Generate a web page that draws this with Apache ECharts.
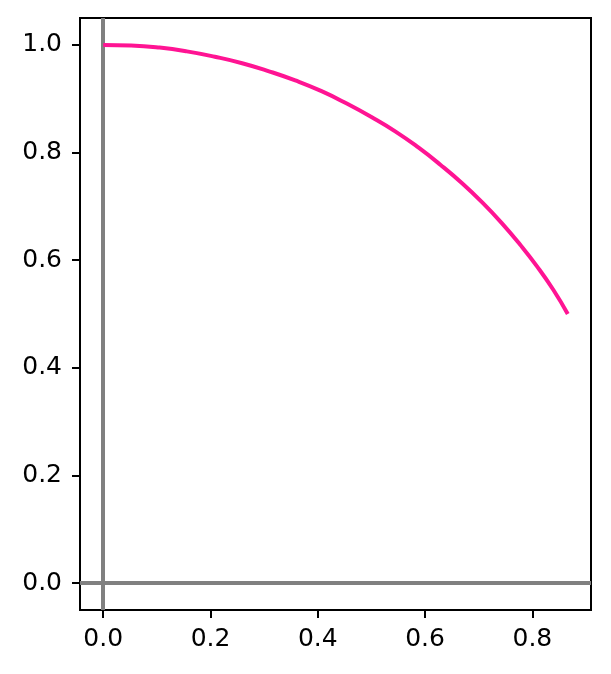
<!DOCTYPE html>
<html>
<head>
<meta charset="utf-8">
<script src="https://cdn.jsdelivr.net/npm/echarts@6/dist/echarts.min.js"></script>
<style>html,body{margin:0;padding:0;background:#fff;}#c{width:611px;height:674px;}</style>
</head>
<body>
<div id="c"></div>
<script>
// Values
const xValues = [0.000, 0.052, 0.105, 0.156, 0.208, 0.259, 0.309, 0.358, 0.407, 0.454, 0.500,
                 0.545, 0.588, 0.629, 0.669, 0.707, 0.743, 0.777, 0.809, 0.839, 0.866];
const yValues = [1.000, 0.999, 0.995, 0.988, 0.978, 0.966, 0.951, 0.934, 0.914, 0.891, 0.866,
                 0.839, 0.809, 0.777, 0.743, 0.707, 0.669, 0.629, 0.588, 0.545, 0.500];
const xTicks = [0.0, 0.2, 0.4, 0.6, 0.8];
const yTicks = [0.0, 0.2, 0.4, 0.6, 0.8, 1.0];
const refX = 0;
const refY = 0;

const chart = echarts.init(document.getElementById('c'), null, {renderer: 'canvas'});
const font = {fontFamily: 'DejaVu Sans', fontSize: 25, color: '#000'};
chart.setOption({
  animation: false,
  grid: {left: 80, right: 20, top: 18, bottom: 64, show: true, borderColor: '#000', borderWidth: 2, backgroundColor: 'transparent'},
  xAxis: {
    type: 'value', min: -0.0433, max: 0.9093,
    axisLine: {show: false, onZero: false},
    splitLine: {show: false},
    axisTick: {show: true, length: 8, lineStyle: {color: '#000', width: 2}, customValues: xTicks},
    axisLabel: Object.assign({margin: 17, customValues: xTicks, formatter: v => v.toFixed(1)}, font)
  },
  yAxis: {
    type: 'value', min: -0.05, max: 1.05,
    axisLine: {show: false, onZero: false},
    splitLine: {show: false},
    axisTick: {show: true, length: 8, lineStyle: {color: '#000', width: 2}, customValues: yTicks},
    axisLabel: Object.assign({margin: 18, customValues: yTicks, formatter: v => v.toFixed(1)}, font)
  },
  series: [{
    type: 'line',
    data: xValues.map((x, i) => [x, yValues[i]]),
    showSymbol: false,
    smooth: true,
    lineStyle: {color: '#ff1493', width: 4},
    z: 3,
    markLine: {
      silent: true,
      symbol: ['none', 'none'],
      label: {show: false},
      lineStyle: {color: '#808080', width: 4, type: 'solid'},
      data: [{xAxis: refX}, {yAxis: refY}],
      z: 2
    }
  }]
});
</script>
</body>
</html>
